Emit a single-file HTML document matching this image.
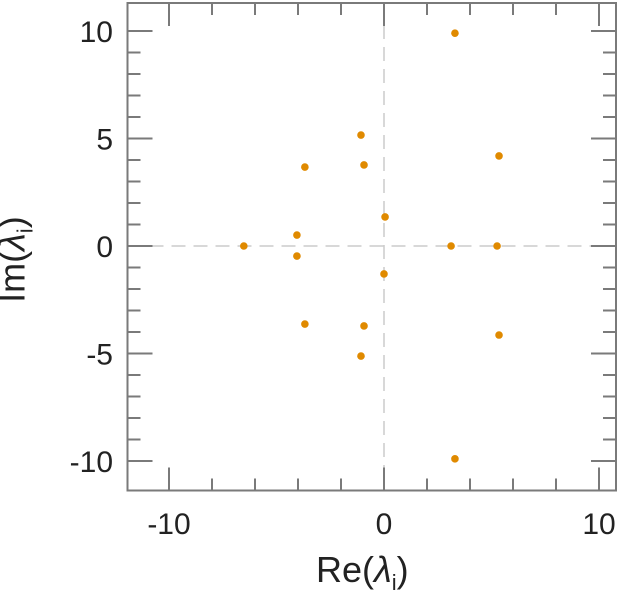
<!DOCTYPE html>
<html><head><meta charset="utf-8"><style>
body{margin:0;background:#fff}
svg{display:block;font-family:"Liberation Sans",sans-serif}
</style></head><body>
<svg id="c" width="622" height="600"></svg>
<script>
const re=[3.3,-1.07,5.35,-3.68,-0.93,0.05,-4.05,-6.52,3.12,5.26,-4.05,0,-3.68,-0.93,-1.07,5.35,3.3];
const im=[9.9,5.16,4.19,3.67,3.77,1.35,0.51,0,0,0,-0.47,-1.3,-3.63,-3.72,-5.12,-4.14,-9.9];
const xTicks=[-10,0,10];
const yTicks=[-10,-5,0,5,10];
const L=127.5,R=616,T=3,B=490.5;
const X=v=>384+v*21.5, Y=v=>246-v*21.5;
const s=document.getElementById('c');const NS='http://www.w3.org/2000/svg';
function el(t,a,p){const e=document.createElementNS(NS,t);for(const k in a)e.setAttribute(k,a[k]);(p||s).appendChild(e);return e;}
const zx=el('line',{x1:X(0),x2:X(0),y1:T,y2:B,stroke:'#ccc','stroke-dasharray':'14,8','stroke-width':1.5});


const zy=el('line',{x1:L,x2:R,y1:Y(0),y2:Y(0),stroke:'#ccc','stroke-dasharray':'14,8','stroke-width':1.5});


const g=el('g',{stroke:'#7a7a7a','stroke-width':2});


for(let v=-12;v<=10;v+=2){const len=v%10===0?23:12;const x=X(v);if(x<L||x>R)continue;
 el('line',{x1:x,x2:x,y1:B,y2:B-len},g);el('line',{x1:x,x2:x,y1:T,y2:T+len},g);}
for(let v=-10;v<=10;v+=1){const len=v%5===0?25:13;const y=Y(v);
 el('line',{x1:L,x2:L+len,y1:y,y2:y},g);el('line',{x1:R,x2:R-len,y1:y,y2:y},g);}
const fr=el('rect',{x:L,y:T,width:R-L,height:B-T,fill:'none'},g);


xTicks.forEach(v=>{const t=el('text',{x:X(v),y:534,'text-anchor':'middle','font-size':30,fill:'#222'});t.textContent=v;
 
 });
yTicks.forEach(v=>{const t=el('text',{x:113,y:Y(v)+11,'text-anchor':'end','font-size':30,fill:'#222'});t.textContent=v;
 
 });
re.forEach((r,i)=>{const c=el('circle',{cx:X(r),cy:Y(im[i]),r:3.8,fill:'#e08a00'});
 
 });
</script>
<div style="position:absolute;left:0;top:0;width:622px;height:600px;pointer-events:none;font-family:'Liberation Sans','DejaVu Sans',sans-serif;color:#222">
<div style="position:absolute;left:316px;top:552px;font-size:36px;line-height:36px">Re(<i>λ</i><sub style="font-size:22px">i</sub>)</div>
<div style="position:absolute;left:-46px;top:235px;width:130px;text-align:center;font-size:36px;line-height:36px;transform:rotate(-90deg)">Im(<i>λ</i><sub style="font-size:22px">i</sub>)</div>
</div>
</body></html>
